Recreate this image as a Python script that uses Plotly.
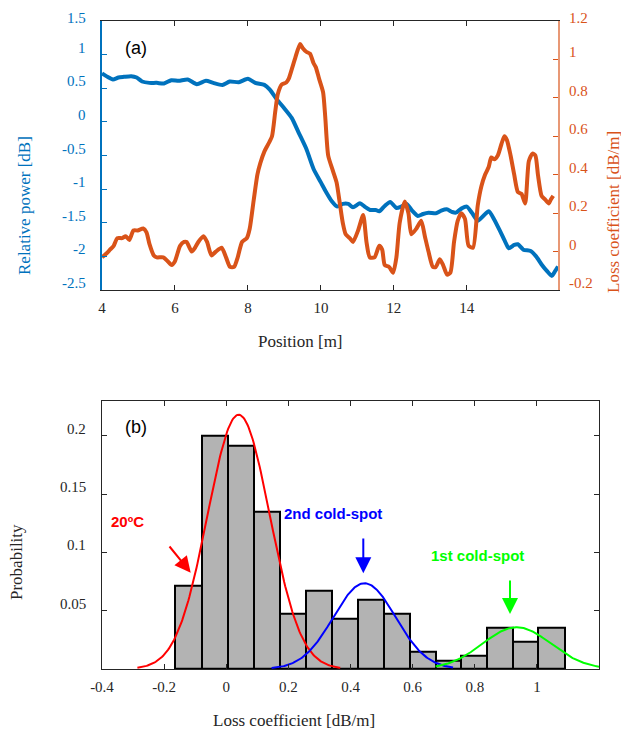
import numpy as np
import plotly.graph_objects as go

W, H = 629, 731
OFF = 8  # default page body margin of the html page

# ---------------- (a) data ----------------
power_x = [4.0, 4.15, 4.3, 4.45, 4.6, 4.8, 4.95, 5.1, 5.3, 5.5, 5.7, 5.9, 6.1, 6.35, 6.6, 6.85,
           7.05, 7.3, 7.5, 7.75, 8.0, 8.2, 8.45, 8.6, 8.8, 9.0, 9.2, 9.4, 9.6, 9.8, 10.0, 10.15,
           10.3, 10.45, 10.6, 10.75, 10.88, 11.07, 11.2, 11.35, 11.5, 11.6, 11.75, 11.9, 12.07,
           12.2, 12.35, 12.5, 12.66, 12.8, 12.95, 13.15, 13.3, 13.45, 13.6, 13.7, 13.85, 14.0,
           14.15, 14.3, 14.45, 14.6, 14.75, 14.9, 15.05, 15.15, 15.3, 15.4, 15.55, 15.75, 15.9,
           16.05, 16.2, 16.33, 16.42, 16.5]
power_db = [0.72, 0.67, 0.63, 0.66, 0.67, 0.68, 0.66, 0.6, 0.58, 0.58, 0.57, 0.62, 0.61, 0.63,
            0.56, 0.61, 0.58, 0.55, 0.6, 0.59, 0.64, 0.58, 0.55, 0.48, 0.33, 0.2, 0.06, -0.17,
            -0.4, -0.7, -0.9, -1.05, -1.18, -1.26, -1.22, -1.22, -1.27, -1.21, -1.26, -1.31,
            -1.31, -1.33, -1.25, -1.19, -1.28, -1.26, -1.22, -1.32, -1.4, -1.37, -1.35, -1.36,
            -1.32, -1.3, -1.34, -1.35, -1.29, -1.26, -1.36, -1.47, -1.4, -1.33, -1.45, -1.61,
            -1.78, -1.88, -1.83, -1.82, -1.9, -1.92, -2.0, -2.12, -2.22, -2.29, -2.22, -2.15]

loss_x = [4.0, 4.12, 4.22, 4.32, 4.42, 4.55, 4.65, 4.75, 4.86, 4.98, 5.13, 5.22, 5.3, 5.42, 5.5,
          5.68, 5.8, 5.91, 6.0, 6.14, 6.25, 6.32, 6.46, 6.55, 6.64, 6.78, 6.88, 7.0, 7.12, 7.28,
          7.4, 7.51, 7.62, 7.72, 7.84, 7.97, 8.05, 8.16, 8.26, 8.34, 8.45, 8.56, 8.66, 8.75, 8.82,
          8.93, 9.05, 9.12, 9.22, 9.3, 9.43, 9.5, 9.6, 9.7, 9.8, 9.86, 9.95, 10.06, 10.12, 10.2,
          10.33, 10.43, 10.52, 10.6, 10.68, 10.79, 10.88, 11.02, 11.16, 11.25, 11.34, 11.47, 11.6,
          11.68, 11.75, 11.87, 11.98, 12.07, 12.16, 12.3, 12.4, 12.48, 12.62, 12.75, 12.85, 12.95,
          13.07, 13.15, 13.26, 13.35, 13.46, 13.55, 13.65, 13.75, 13.85, 13.95, 14.05, 14.17,
          14.3, 14.4, 14.5, 14.6, 14.67, 14.75, 14.85, 14.95, 15.03, 15.1, 15.2, 15.3, 15.4,
          15.5, 15.6, 15.7, 15.8, 15.88, 15.95, 16.05, 16.15, 16.25, 16.3, 16.37]
loss_db_m = [-0.03, -0.01, 0.01, 0.03, 0.07, 0.07, 0.08, 0.06, 0.11, 0.11, 0.12, 0.1, 0.04, -0.02,
             -0.03, -0.03, -0.05, -0.07, -0.05, 0.03, 0.05, 0.05, 0.0, 0.02, 0.05, 0.08, 0.05,
             -0.02, 0.0, 0.02, -0.03, -0.08, -0.08, -0.03, 0.05, 0.07, 0.12, 0.27, 0.4, 0.46,
             0.52, 0.56, 0.6, 0.73, 0.82, 0.87, 0.88, 0.9, 0.96, 1.01, 1.08, 1.06, 1.04, 1.03,
             0.98, 0.96, 0.9, 0.83, 0.7, 0.5, 0.42, 0.36, 0.25, 0.15, 0.09, 0.07, 0.05, 0.11,
             0.19, 0.05, -0.03, -0.03, 0.03, 0.01, -0.07, -0.08, -0.11, -0.03, 0.15, 0.26, 0.2,
             0.09, 0.12, 0.16, 0.08, 0.0, -0.08, -0.08, -0.04, -0.07, -0.12, -0.11, 0.05, 0.16,
             0.2, 0.17, 0.03, 0.02, 0.24, 0.34, 0.4, 0.44, 0.49, 0.48, 0.5, 0.56, 0.6, 0.58, 0.5,
             0.4, 0.31, 0.3, 0.25, 0.47, 0.51, 0.5, 0.4, 0.29, 0.27, 0.25, 0.27, 0.29]

pos_ticks = [4, 6, 8, 10, 12, 14]
power_ticks = [-2.5, -2, -1.5, -1, -0.5, 0, 0.5, 1, 1.5]
power_tick_text = ["-2.5", "-2", "-1.5", "-1", "-0.5", "0", "0.5", "1", "1.5"]
loss_ticks = [-0.2, 0, 0.2, 0.4, 0.6, 0.8, 1.0, 1.2]
loss_tick_text = ["-0.2", "0", "0.2", "0.4", "0.6", "0.8", "1", "1.2"]

# ---------------- (b) data ----------------
bin_edges = [-0.164, -0.079, 0.005, 0.088, 0.173, 0.256, 0.340, 0.423, 0.507, 0.590, 0.674,
             0.755, 0.838, 0.922, 1.005, 1.089]
probability = [0.071, 0.2, 0.191, 0.135, 0.047, 0.067, 0.043, 0.059, 0.047, 0.015, 0.007, 0.011,
               0.035, 0.023, 0.035]

fit_names = ["20ºC", "2nd cold-spot", "1st cold-spot"]
fit_mu = [0.04, 0.445, 0.935]
fit_sigma = [0.1, 0.1, 0.11]
fit_amp = [0.218, 0.0735, 0.0358]
fit_start = [-0.286, 0.146, 0.674]
fit_end = [0.367, 0.73, 1.2]
fit_colors = ["#FF0000", "#0000FF", "#00FF00"]

hist_xticks = [-0.4, -0.2, 0, 0.2, 0.4, 0.6, 0.8, 1.0]
hist_xtick_text = ["-0.4", "-0.2", "0", "0.2", "0.4", "0.6", "0.8", "1"]
hist_yticks = [0.05, 0.1, 0.15, 0.2]
hist_ytick_text = ["0.05", "0.1", "0.15", "0.2"]

BLUE = "#0072BD"
ORANGE = "#D95319"
AXC = "#262626"
SERIF = "Liberation Serif, Times New Roman, serif"
SANS = "Liberation Sans, Arial, sans-serif"


def px(x):
    return (x - OFF) / W


def py(y):
    return 1 - (y - OFF) / H


fig = go.Figure()

fig.add_trace(go.Scatter(x=power_x, y=power_db, mode="lines", xaxis="x", yaxis="y",
                         line=dict(color=BLUE, width=4, shape="spline", smoothing=0.6),
                         showlegend=False, hoverinfo="skip"))
fig.add_trace(go.Scatter(x=loss_x, y=loss_db_m, mode="lines", xaxis="x", yaxis="y2",
                         line=dict(color=ORANGE, width=4, shape="spline", smoothing=0.6),
                         showlegend=False, hoverinfo="skip"))

edges = np.array(bin_edges)
centers = (edges[:-1] + edges[1:]) / 2
widths = np.diff(edges)
fig.add_trace(go.Bar(x=centers, y=probability, width=widths, xaxis="x3", yaxis="y3",
                     marker=dict(color="#B3B3B3", line=dict(color="black", width=2)),
                     showlegend=False, hoverinfo="skip"))

for mu, sg, amp, a, b, c in zip(fit_mu, fit_sigma, fit_amp, fit_start, fit_end, fit_colors):
    xs = np.linspace(a, b, 200)
    ys = amp * np.exp(-(xs - mu) ** 2 / (2 * sg ** 2))
    fig.add_trace(go.Scatter(x=xs, y=ys, mode="lines", xaxis="x3", yaxis="y3",
                             line=dict(color=c, width=2), showlegend=False, hoverinfo="skip",
                             cliponaxis=False))

tickfont = dict(family=SERIF, size=15, color=AXC)

fig.update_layout(
    width=W, height=H, autosize=False,
    margin=dict(l=0, r=0, t=0, b=0),
    paper_bgcolor="white", plot_bgcolor="white",
    bargap=0,
    xaxis=dict(domain=[px(102), px(558)], range=[4, 16.5], tickvals=pos_ticks,
               ticks="inside", ticklen=5, tickcolor=AXC, showline=True, linecolor=AXC,
               linewidth=1, mirror="ticks", showgrid=False, zeroline=False, automargin=False,
               tickfont=tickfont, anchor="y", ticklabelstandoff=4),
    yaxis=dict(domain=[py(290), py(21)], range=[-2.5, 1.5], tickvals=power_ticks,
               ticks="inside", ticklen=5, tickcolor=BLUE, showticklabels=False,
               showline=True, linecolor=BLUE, linewidth=1.5, showgrid=False, zeroline=False,
               anchor="x", automargin=False),
    yaxis2=dict(domain=[py(290), py(21)], range=[-0.2, 1.2], tickvals=loss_ticks,
                ticks="inside", ticklen=5, tickcolor=ORANGE, showticklabels=False,
                overlaying="y", side="right", anchor="x", automargin=False,
                showline=True, linecolor="rgba(217,83,25,0.6)", linewidth=2, showgrid=False,
                zeroline=False),
    xaxis3=dict(domain=[px(102), px(599)], range=[-0.4, 1.2], tickvals=hist_xticks,
                ticktext=hist_xtick_text, ticks="inside", ticklen=5, tickcolor=AXC,
                showline=True, linecolor=AXC, linewidth=1, mirror="ticks", showgrid=False,
                zeroline=False, tickfont=tickfont, anchor="y3", ticklabelstandoff=4,
                automargin=False),
    yaxis3=dict(domain=[py(669), py(400.7)], range=[0, 0.23], tickvals=hist_yticks,
                ticks="inside", ticklen=5, tickcolor=AXC, showticklabels=False,
                showline=True, linecolor=AXC, linewidth=1, mirror="ticks", showgrid=False,
                zeroline=False, anchor="x3", automargin=False),
)

ann = []


def shift_for(i, n):
    # labels sit slightly above their ticks; the topmost one is kept inside the page
    return 3 if i == n - 1 else 7


# y tick labels (drawn slightly above their ticks, as in the original export)
for i, (v, t) in enumerate(zip(power_ticks, power_tick_text)):
    ann.append(dict(x=px(88), y=v, xref="paper", yref="y", text=t, showarrow=False,
                    xanchor="right", yanchor="middle", yshift=shift_for(i, len(power_ticks)),
                    font=dict(family=SERIF, size=15, color=BLUE)))
for i, (v, t) in enumerate(zip(loss_ticks, loss_tick_text)):
    ann.append(dict(x=px(567), y=v, xref="paper", yref="y2", text=t, showarrow=False,
                    xanchor="left", yanchor="middle", yshift=shift_for(i, len(loss_ticks)),
                    font=dict(family=SERIF, size=15, color=ORANGE)))
for v, t in zip(hist_yticks, hist_ytick_text):
    ann.append(dict(x=px(88), y=v, xref="paper", yref="y3", text=t, showarrow=False,
                    xanchor="right", yanchor="middle", yshift=7,
                    font=dict(family=SERIF, size=15, color=AXC)))


def txt(x, y, s, size, color, family, angle=0, bold=False):
    t = f"<b>{s}</b>" if bold else s
    ann.append(dict(x=px(x), y=py(y), xref="paper", yref="paper", text=t, showarrow=False,
                    textangle=angle, xanchor="center", yanchor="middle",
                    font=dict(size=size, color=color, family=family)))


# axis titles
txt(300, 341, "Position [m]", 17, AXC, SERIF)
txt(24, 206, "Relative power [dB]", 17, BLUE, SERIF, angle=-90)
txt(613, 212, "Loss coefficient [dB/m]", 17, ORANGE, SERIF, angle=-90)
txt(294, 720, "Loss coefficient [dB/m]", 17, AXC, SERIF)
txt(16, 562, "Probability", 17, AXC, SERIF, angle=-90)
# panel labels
txt(136, 48, "(a)", 18, "black", SANS)
txt(136, 427, "(b)", 18, "black", SANS)
# fit labels
txt(127, 521, fit_names[0], 15, fit_colors[0], SANS, bold=True)
txt(333, 513, fit_names[1], 15, fit_colors[1], SANS, bold=True)
txt(477, 555, fit_names[2], 15, fit_colors[2], SANS, bold=True)


def arrow(tipx, tipy, tailx, taily, color):
    ann.append(dict(x=px(tipx), y=py(tipy), xref="paper", yref="paper",
                    ax=tailx - tipx, ay=taily - tipy, text="", showarrow=True,
                    arrowhead=2, arrowsize=1.6, arrowwidth=2, arrowcolor=color))


arrow(190.7, 572.7, 168.3, 545, fit_colors[0])
arrow(363.3, 573.3, 363.3, 537, fit_colors[1])
arrow(510, 614, 510, 579, fit_colors[2])

fig.update_layout(annotations=ann)

fig.write_html("out.html")
